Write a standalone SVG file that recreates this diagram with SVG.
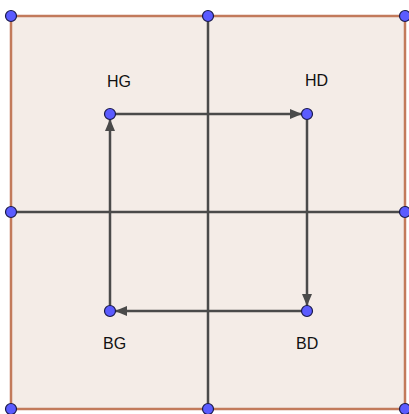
<svg xmlns="http://www.w3.org/2000/svg" width="409" height="414" viewBox="0 0 409 414">
  <style>
    .frame { fill: #f4ece7; stroke: #c27a5b; stroke-width: 2.5; }
    .axis { stroke: #4a4a4a; stroke-width: 2.5; fill: none; }
    .edge { stroke: #4a4a4a; stroke-width: 2.5; fill: none; marker-end: url(#head); }
    .pt { fill: #5b5bff; stroke: #1a1a4a; stroke-width: 1.2; }
    .lbl { font-family: "Liberation Sans", Arial, sans-serif; font-size: 16px; fill: #111; }
  </style>
  <defs>
    <marker id="head" viewBox="0 0 12 10" refX="12" refY="5" markerWidth="12" markerHeight="10" markerUnits="userSpaceOnUse" orient="auto">
      <path d="M0,0 L12,5 L0,10 Z" fill="#4a4a4a"/>
    </marker>
  </defs>

  <!-- outer square -->
  <rect class="frame" x="11" y="16" width="394" height="393"/>

  <!-- axes and square cycle -->
  <g id="connectors">
    <line class="axis" x1="208" y1="16" x2="208" y2="409"/>
    <line class="axis" x1="11" y1="212" x2="405" y2="212"/>
    <line class="edge" x1="110" y1="114" x2="302" y2="114"/>
    <line class="edge" x1="307" y1="114" x2="307" y2="306"/>
    <line class="edge" x1="307" y1="311" x2="115" y2="311"/>
    <line class="edge" x1="110" y1="311" x2="110" y2="119"/>
  </g>

  <!-- frame points -->
  <g id="frame-points">
    <circle class="pt" cx="11" cy="16" r="5.5"/>
    <circle class="pt" cx="208" cy="16" r="5.5"/>
    <circle class="pt" cx="405" cy="16" r="5.5"/>
    <circle class="pt" cx="11" cy="212" r="5.5"/>
    <circle class="pt" cx="405" cy="212" r="5.5"/>
    <circle class="pt" cx="11" cy="409" r="5.5"/>
    <circle class="pt" cx="208" cy="409" r="5.5"/>
    <circle class="pt" cx="405" cy="409" r="5.5"/>
  </g>

  <g id="HG">
    <circle class="pt" cx="110" cy="114" r="5.5"/>
    <text class="lbl" x="107" y="87">HG</text>
  </g>
  <g id="HD">
    <circle class="pt" cx="307" cy="114" r="5.5"/>
    <text class="lbl" x="305" y="86">HD</text>
  </g>
  <g id="BD">
    <circle class="pt" cx="307" cy="311" r="5.5"/>
    <text class="lbl" x="296" y="349">BD</text>
  </g>
  <g id="BG">
    <circle class="pt" cx="110" cy="311" r="5.5"/>
    <text class="lbl" x="103" y="349">BG</text>
  </g>
</svg>
